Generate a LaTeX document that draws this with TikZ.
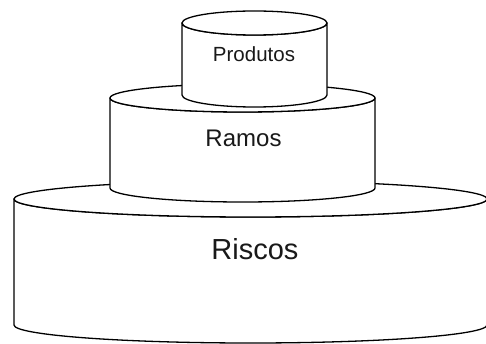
\documentclass[tikz,border=0pt]{standalone}
\usepackage{fontspec}
\setmainfont{Liberation Sans}
\begin{document}
\begin{tikzpicture}[x=1pt,y=-1pt,
  can/.style={draw=black, fill=white, line width=1.3pt, line join=round},
  lbl/.style={anchor=base, inner sep=0pt, text=black!90}]
\useasboundingbox (0,0) rectangle (486,344);
\clip (0,0) rectangle (486,344);

% bottom tier
\draw[can] (14,199) -- (14,325)
  arc[start angle=180, end angle=0, x radius=236.5, y radius=18]
  -- (487,199)
  arc[start angle=0, end angle=180, x radius=236.5, y radius=18] -- cycle;
\draw[can] (250.5,199) ellipse [x radius=236.5, y radius=18];

% middle tier
\draw[can] (110,98) -- (110,188)
  arc[start angle=180, end angle=0, x radius=132.5, y radius=14]
  -- (375,98)
  arc[start angle=0, end angle=180, x radius=132.5, y radius=14] -- cycle;
\draw[can] (242.5,98) ellipse [x radius=132.5, y radius=14];

% top tier
\draw[can] (182,23) -- (182,95)
  arc[start angle=180, end angle=0, x radius=72.5, y radius=12]
  -- (327,23)
  arc[start angle=0, end angle=180, x radius=72.5, y radius=12] -- cycle;
\draw[can] (254.5,23) ellipse [x radius=72.5, y radius=12];

% labels
\node[lbl, font=\fontsize{20.5}{24}\selectfont] (produtos) at (254,62) {Produtos};
\node[lbl, font=\fontsize{24}{28}\selectfont] (ramos) at (243.5,147) {Ramos};
\node[lbl, font=\fontsize{29}{34}\selectfont] (riscos) at (255,259) {Riscos};
\end{tikzpicture}
\end{document}
